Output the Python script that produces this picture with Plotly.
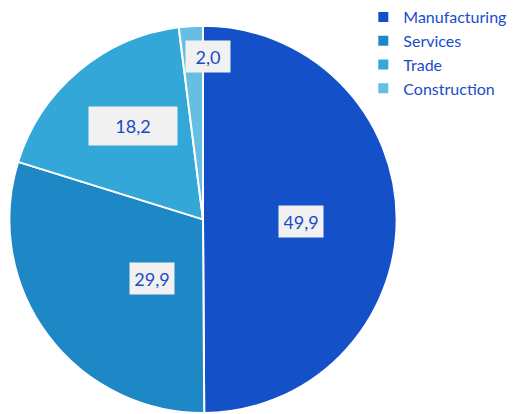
import math
import plotly.graph_objects as go

categories = ["Manufacturing", "Services", "Trade", "Construction"]
values = [49.9, 29.9, 18.2, 2.0]
colors = ["#1450C8", "#1E87C6", "#33A7D7", "#66BEE2"]
label_radius = [0.50, 0.40, 0.60, 0.84]
label_angle_shift = [1.7, -12.7, 3.3, 5.2]
label_box = [(34, 21), (34, 21), (78, 28), (34, 21)]

W, H = 519, 414
cx, cy, R = 203, 217, 196

fig = go.Figure(go.Pie(
    labels=categories, values=values, sort=False, direction="clockwise",
    rotation=0, marker=dict(colors=colors, line=dict(color="white", width=2)),
    textinfo="none", hoverinfo="label+value",
    domain=dict(x=[(cx - R) / W, (cx + R) / W], y=[1 - (cy + R) / H, 1 - (cy - R) / H]),
))

total = sum(values)
cum = 0
anns = []
for v, rf, sh, (bw, bh) in zip(values, label_radius, label_angle_shift, label_box):
    mid = (cum + v / 2) / total * 2 * math.pi + math.radians(sh)
    cum += v
    x = cx + rf * R * math.sin(mid)
    y = cy - rf * R * math.cos(mid)
    anns.append(dict(
        x=x / W, y=1 - y / H, xref="paper", yref="paper", showarrow=False,
        xanchor="center", yanchor="middle",
        text=f"{v:.1f}".replace(".", ","), width=bw, height=bh, align="center", valign="middle",
        font=dict(family="Lato, sans-serif", size=18, color="#1A4CC8"),
        bgcolor="#F1F1F1", borderpad=5,
    ))

fig.update_layout(
    width=W, height=H, margin=dict(l=0, r=0, t=0, b=0),
    paper_bgcolor="white", plot_bgcolor="white",
    annotations=anns,
    legend=dict(x=0.70, y=1.013, xanchor="left", yanchor="top",
                font=dict(family="Lato, sans-serif", size=16, color="#1A4CC8"),
                tracegroupgap=0, itemwidth=30),
)
fig.write_html("out.html")
